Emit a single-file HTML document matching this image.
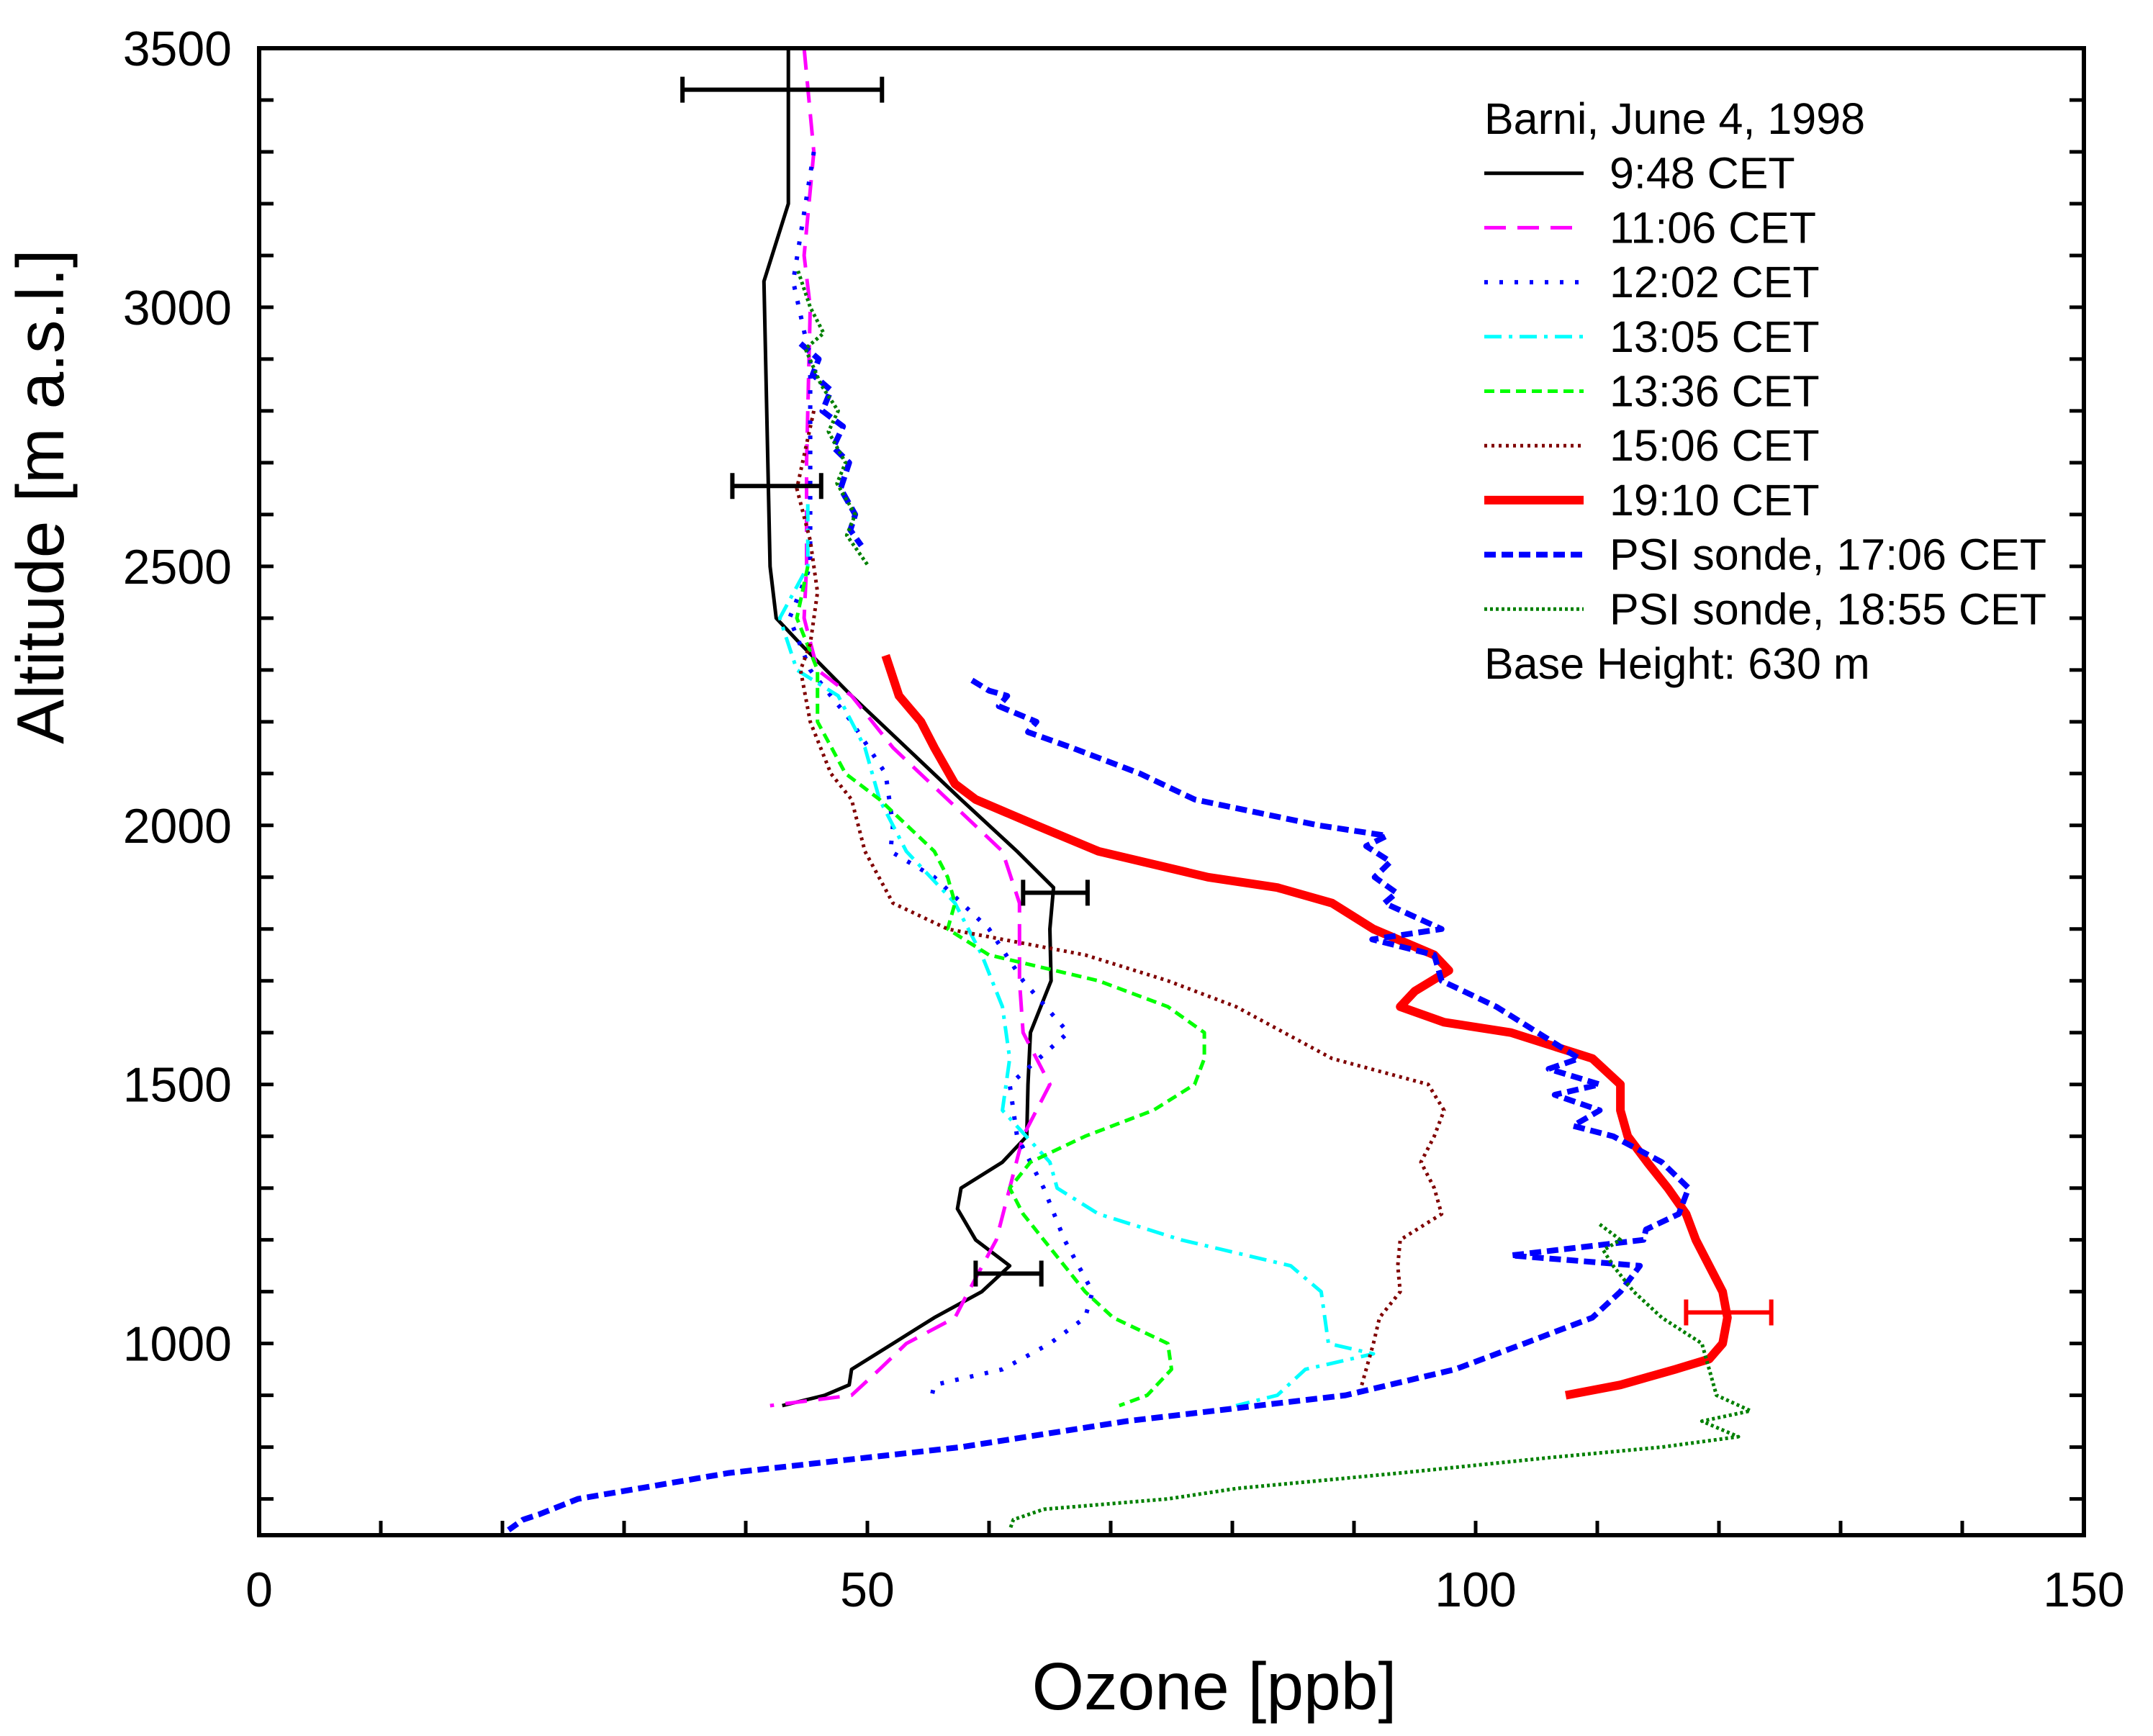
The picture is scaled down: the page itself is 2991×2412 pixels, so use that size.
<!DOCTYPE html>
<html><head><meta charset="utf-8"><style>
body{margin:0;background:#fff}
svg{display:block;font-family:"Liberation Sans",Arial,sans-serif}
</style></head><body>
<svg id="chart" width="2991" height="2412" viewBox="0 0 2991 2412" xmlns="http://www.w3.org/2000/svg">
<g id="marks"></g>
<g id="axes"></g>
<g id="legend"></g>
</svg>
<script>
// ---- data: [ozone ppb, altitude m] ----
const xTicks = [0, 50, 100, 150];
const yTicks = [1000, 1500, 2000, 2500, 3000, 3500];
const s0948 = [[43.5,3500],[43.5,3200],[41.5,3050],[42,2500],[42.5,2400],[44.5,2350],[48.7,2250],[53.2,2150],[57.7,2050],[62.3,1950],[65.3,1880],[65,1800],[65.1,1700],[63.4,1600],[63.2,1500],[63.1,1400],[61.1,1350],[57.7,1300],[57.4,1260],[58.9,1200],[61.7,1150],[59.4,1100],[55.5,1050],[52.1,1000],[48.7,950],[48.5,920],[46.5,900],[43,880]];
const s1106 = [[44.8,3500],[45.6,3300],[44.8,3100],[45.3,3000],[45,2700],[45,2500],[44.8,2400],[45.9,2300],[48.7,2250],[52.1,2150],[56.6,2050],[61.1,1950],[62.5,1850],[62.5,1700],[62.8,1600],[65,1500],[62.8,1400],[61.7,1300],[60.6,1200],[58.3,1100],[57.2,1050],[53.2,1000],[51,950],[48.7,900],[42,880]];
const s1202 = [[45.6,3300],[43.9,3050],[45.3,2900],[45.3,2700],[45.3,2500],[43.6,2400],[45.3,2300],[48.7,2200],[51.5,2100],[52.1,2000],[51.9,1950],[55.5,1900],[60,1800],[62.8,1700],[66.5,1600],[61.7,1500],[62.3,1400],[64.5,1300],[66.2,1200],[68.5,1100],[67.9,1050],[65,1000],[61.1,950],[55.5,920],[55.2,890]];
const s1305 = [[45.1,2620],[45.1,2500],[42.8,2400],[44.2,2300],[47.6,2250],[49.8,2150],[51,2050],[53.2,1950],[57.2,1850],[59.4,1750],[61.1,1650],[61.7,1550],[61.1,1450],[65,1350],[65.6,1300],[69,1250],[75.8,1200],[84.8,1150],[87.3,1100],[87.9,1000],[91.6,980],[86,950],[83.7,900],[80.3,880]];
const s1336 = [[45.1,2500],[44.2,2400],[45.9,2300],[45.9,2200],[48.2,2100],[51,2050],[55.5,1950],[56.6,1900],[57.2,1850],[56.6,1800],[60,1750],[69,1700],[74.7,1650],[77.7,1600],[77.7,1550],[76.9,1500],[73.5,1450],[67.9,1400],[63.4,1350],[61.7,1300],[62.8,1250],[64.5,1200],[67.9,1100],[70.2,1050],[74.7,1000],[75,950],[73,900],[70.7,880]];
const s1506 = [[45.6,2800],[44.2,2650],[45.3,2550],[45.9,2450],[45.3,2350],[44.5,2300],[45.3,2200],[47,2100],[48.7,2050],[49.8,1950],[52.1,1850],[56.6,1800],[67.9,1750],[74.7,1700],[80.3,1650],[88.2,1550],[96.1,1500],[97.4,1450],[96.6,1400],[95.5,1350],[96.6,1300],[97.2,1250],[93.8,1200],[93.6,1150],[93.8,1100],[92.1,1050],[91.6,1000],[91,950],[90.4,900]];
const s1910 = [[51.5,2328],[52.6,2250],[54.4,2200],[55.5,2150],[57.2,2080],[58.9,2050],[63.9,2000],[69,1950],[78,1900],[83.7,1880],[88.2,1850],[91.6,1800],[96.6,1750],[97.8,1720],[95,1680],[93.8,1650],[97.4,1620],[102.9,1600],[109.6,1550],[111.9,1500],[111.9,1450],[112.5,1400],[114.1,1350],[115.8,1300],[117.3,1250],[118.1,1200],[119.2,1150],[120.3,1100],[120.7,1050],[120.3,1000],[119.2,970],[116.4,950],[111.9,920],[107.4,900]];
const sPsi1706 = [[44.5,2930],[46,2900],[45.5,2870],[47,2840],[46.3,2800],[48,2770],[47.2,2730],[48.5,2700],[47.8,2650],[49,2600],[48.6,2570],[49.5,2540],[58.6,2280],[60,2260],[61.5,2250],[60.8,2230],[63.9,2200],[63.2,2180],[66.8,2150],[72.4,2100],[76.9,2050],[87.1,2000],[92.7,1980],[91,1960],[93,1930],[91.7,1900],[93.5,1870],[92.5,1850],[97.2,1800],[91.5,1780],[96.6,1750],[97.2,1700],[101.7,1650],[105.1,1600],[108.5,1550],[106,1530],[110.2,1500],[106.5,1480],[110.2,1450],[108,1420],[111.3,1400],[115.3,1350],[117.5,1300],[116.7,1250],[114,1220],[113.8,1200],[102.9,1170],[113.5,1150],[111.9,1100],[109.6,1050],[104,1000],[98.3,950],[89.3,900],[71.3,850],[57.7,800],[38.6,750],[26.2,700],[23,670],[21.7,660],[20.5,640]];
const sPsi1855 = [[44.3,3070],[45.3,3000],[46.4,2950],[44.9,2920],[46.2,2850],[47.6,2800],[46.8,2760],[48.2,2700],[47.5,2660],[49,2600],[48.3,2560],[50.1,2500],[110.2,1230],[111.9,1200],[110.5,1180],[111.3,1150],[113,1100],[115.3,1050],[118.6,1000],[119.2,950],[119.8,900],[122.6,870],[118.6,850],[121.6,820],[115.3,800],[106.2,780],[93.8,750],[80.3,720],[74.7,700],[64.5,680],[62,660],[61.7,640]];
const errBlack = [[34.8,51.2,3420],[38.9,46.2,2655],[62.8,68.1,1870],[58.9,64.3,1135]];
const errRed = [[117.3,124.3,1060]];
const legendLabels = ["  9:48 CET","11:06 CET","12:02 CET","13:05 CET","13:36 CET","15:06 CET","19:10 CET","PSI sonde, 17:06 CET","PSI sonde, 18:55 CET"];

// ---- layout ----
const L=360,R=2895,T=67,B=2133,XMIN=0,XMAX=150,YMIN=630,YMAX=3500;
const X=v=>L+(v-XMIN)/(XMAX-XMIN)*(R-L);
const Y=v=>B-(v-YMIN)/(YMAX-YMIN)*(B-T);
const NS="http://www.w3.org/2000/svg";
function mk(tag,attrs,parent){const e=document.createElementNS(NS,tag);for(const k in attrs)e.setAttribute(k,attrs[k]);parent.appendChild(e);return e;}
const marks=document.getElementById('marks'),axes=document.getElementById('axes'),leg=document.getElementById('legend');

const styles=[
 {d:s0948,c:"#000",w:5,da:"",n:"series-0948",gap:false},
 {d:s1106,c:"#ff00ff",w:5,da:"30 16",n:"series-1106",gap:false},
 {d:s1202,c:"#0000ff",w:6,da:"5 16",n:"series-1202",gap:false},
 {d:s1305,c:"#00ffff",w:5,da:"24 10 5 10",n:"series-1305",gap:false},
 {d:s1336,c:"#00ff00",w:5,da:"14 8",n:"series-1336",gap:false},
 {d:s1506,c:"#800000",w:5,da:"4 6",n:"series-1506",gap:false},
 {d:s1910,c:"#ff0000",w:12,da:"",n:"series-1910",gap:false},
 {d:sPsi1706,c:"#0000ff",w:8,da:"16 8",n:"series-psi-1706",gap:true},
 {d:sPsi1855,c:"#008000",w:5,da:"4 4",n:"series-psi-1855",gap:true}
];
function drawSeries(s){
  let segs=[[]];
  s.d.forEach((p,i)=>{if(s.gap&&i>0&&Math.abs(p[1]-s.d[i-1][1])>200)segs.push([]);segs[segs.length-1].push(p);});
  segs.forEach(sg=>{
    const path=mk('path',{d:sg.map((p,i)=>(i?'L':'M')+X(p[0]).toFixed(1)+' '+Y(p[1]).toFixed(1)).join(' '),fill:'none',stroke:s.c,'stroke-width':s.w,'stroke-dasharray':s.da,'stroke-linejoin':'round'},marks);
    
    
  });
}
styles.forEach(drawSeries);

function drawErr(arr,c,name){
  arr.forEach(e=>{
    const g=mk('g',{stroke:c,'stroke-width':6},marks);
    
    
    const y=Y(e[2]);
    mk('line',{x1:X(e[0]),x2:X(e[1]),y1:y,y2:y},g);
    mk('line',{x1:X(e[0]),x2:X(e[0]),y1:y-18,y2:y+18},g);
    mk('line',{x1:X(e[1]),x2:X(e[1]),y1:y-18,y2:y+18},g);
  });
}
drawErr(errBlack,"#000","error-bar-0948");
drawErr(errRed,"#ff0000","error-bar-1910");

const frame=mk('rect',{x:L,y:T,width:R-L,height:B-T,fill:'none',stroke:'#000','stroke-width':6},axes);


for(let v=XMIN+10;v<XMAX;v+=10){
  mk('line',{x1:X(v),x2:X(v),y1:B,y2:B-20,stroke:'#000','stroke-width':5},axes);
}
for(let v=700;v<YMAX;v+=100){
  mk('line',{x1:L,x2:L+20,y1:Y(v),y2:Y(v),stroke:'#000','stroke-width':5},axes);
  mk('line',{x1:R,x2:R-20,y1:Y(v),y2:Y(v),stroke:'#000','stroke-width':5},axes);
}
xTicks.forEach(v=>{
  const t=mk('text',{x:X(v),y:2232,'font-size':68,'text-anchor':'middle'},axes);t.textContent=v;
  
  
});
yTicks.forEach(v=>{
  const t=mk('text',{x:322,y:Y(v)+24,'font-size':68,'text-anchor':'end'},axes);t.textContent=v;
  
  
});
const xt=mk('text',{x:1687,y:2375,'font-size':93,'text-anchor':'middle'},axes);xt.textContent="Ozone [ppb]";


const yt=mk('text',{x:0,y:0,'font-size':93,'text-anchor':'middle',transform:'translate(88,690) rotate(-90)'},axes);yt.textContent="Altitude [m a.s.l.]";



const lx0=2062,lx1=2200,ltx=2236,rowH=75.7,row0=165;
const head=mk('text',{x:lx0,y:row0+21,'font-size':61},leg);head.textContent="Barni, June 4, 1998";


legendLabels.forEach((lab,i)=>{
  const s=styles[i],y=row0+rowH*(i+1);
  const ln=mk('line',{x1:lx0,x2:lx1,y1:y,y2:y,stroke:s.c,'stroke-width':s.w,'stroke-dasharray':s.da},leg);
  
  
  const t=mk('text',{x:ltx,y:y+21,'font-size':61,'xml:space':'preserve'},leg);t.textContent=lab;
  
  
});
const foot=mk('text',{x:lx0,y:row0+rowH*10+21,'font-size':61},leg);foot.textContent="Base Height: 630 m";


</script>
</body></html>
